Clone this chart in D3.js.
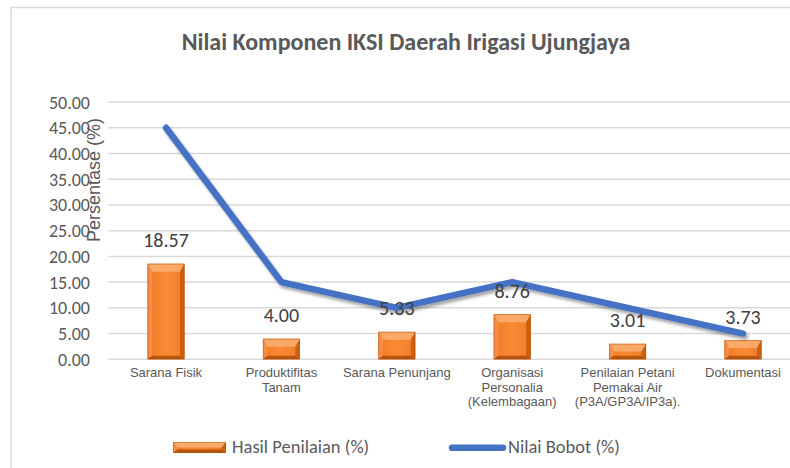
<!DOCTYPE html>
<html>
<head>
<meta charset="utf-8">
<script src="https://cdn.jsdelivr.net/npm/d3@7"></script>
<style>
  html, body { margin: 0; padding: 0; background: #fff; }
  svg { display: block; }
</style>
</head>
<body>
<svg id="chart" width="790" height="468"></svg>
<script>
// ---- data ----
const categories = [
  ["Sarana Fisik"],
  ["Produktifitas", "Tanam"],
  ["Sarana Penunjang"],
  ["Organisasi", "Personalia", "(Kelembagaan)"],
  ["Penilaian Petani", "Pemakai Air", "(P3A/GP3A/IP3a)."],
  ["Dokumentasi"]
];
const hasilPenilaian = [18.57, 4.00, 5.33, 8.76, 3.01, 3.73];
const nilaiBobot = [45, 15, 10, 15, 10, 5];
const yTicks = [0, 5, 10, 15, 20, 25, 30, 35, 40, 45, 50];
const title = "Nilai Komponen IKSI Daerah Irigasi Ujungjaya";
const yTitle = "Persentase (%)";
const seriesNames = ["Hasil Penilaian (%)", "Nilai Bobot (%)"];

// ---- layout ----
const svg = d3.select("#chart");
const plot = { left: 108.3, right: 800.7, top: 102, bottom: 359.3 };
const calibri = "Carlito, Lato, 'Liberation Sans', sans-serif";
const arial = "'Liberation Sans', Arial, sans-serif";

const x = d3.scaleBand().domain(d3.range(categories.length))
  .range([plot.left, plot.right]).paddingInner(0.68).paddingOuter(0.34);
const y = d3.scaleLinear().domain([0, 50]).range([plot.bottom, plot.top]);

// defs
const defs = svg.append("defs");
const g1 = defs.append("linearGradient").attr("id", "barFill").attr("x1", 0).attr("x2", 1).attr("y1", 0).attr("y2", 0);
g1.append("stop").attr("offset", "0%").attr("stop-color", "#F27B26");
g1.append("stop").attr("offset", "50%").attr("stop-color", "#FA8A36");
g1.append("stop").attr("offset", "100%").attr("stop-color", "#F07B27");
const shadow = defs.append("filter").attr("id", "lineShadow").attr("x", "-10%").attr("y", "-10%").attr("width", "130%").attr("height", "140%");
shadow.append("feGaussianBlur").attr("in", "SourceAlpha").attr("stdDeviation", 1.6).attr("result", "b");
shadow.append("feOffset").attr("in", "b").attr("dx", 1.5).attr("dy", 2.5).attr("result", "o");
shadow.append("feComponentTransfer").attr("in", "o").attr("result", "s")
  .append("feFuncA").attr("type", "linear").attr("slope", 0.35);
const mg = shadow.append("feMerge");
mg.append("feMergeNode").attr("in", "s");
mg.append("feMergeNode").attr("in", "SourceGraphic");

// chart border (extends past the crop)
svg.append("rect").attr("x", 11).attr("y", 7.5).attr("width", 820).attr("height", 520)
  .attr("fill", "none").attr("stroke", "#d9d9d9").attr("stroke-width", 1.5);

// title
svg.append("text").attr("x", 406).attr("y", 50).attr("text-anchor", "middle")
  .attr("font-family", calibri).attr("font-weight", "bold").attr("font-size", 24)
  .attr("fill", "#595959").text(title);

// gridlines
svg.append("g").selectAll("line").data(yTicks).join("line")
  .attr("x1", plot.left).attr("x2", 790)
  .attr("y1", d => y(d)).attr("y2", d => y(d))
  .attr("stroke", "#d9d9d9").attr("stroke-width", 1.5);

// y axis tick labels
svg.append("g").selectAll("text").data(yTicks).join("text")
  .attr("x", 90).attr("y", d => y(d) + 6.5).attr("text-anchor", "end")
  .attr("font-family", calibri).attr("font-size", 18).attr("fill", "#595959")
  .text(d => d.toFixed(2));

// y axis title
svg.append("text").attr("transform", "translate(100,180) rotate(-90)")
  .attr("text-anchor", "middle").attr("font-family", arial).attr("font-size", 18)
  .attr("fill", "#595959").text(yTitle);

// bevelled bar drawing
function bevelBar(g, x0, y0, w, h) {
  const t = Math.min(8, h / 2), s = Math.min(4.5, w / 2), b = Math.min(3.5, h / 2);
  g.append("rect").attr("x", x0).attr("y", y0).attr("width", w).attr("height", h).attr("fill", "url(#barFill)");
  const poly = (pts, fill) => g.append("polygon").attr("points", pts.map(p => p.join(",")).join(" ")).attr("fill", fill);
  poly([[x0, y0], [x0 + w, y0], [x0 + w - s, y0 + t], [x0 + s, y0 + t]], "#FAAA68");
  poly([[x0, y0], [x0 + s, y0 + t], [x0 + s, y0 + h - b], [x0, y0 + h]], "#F58D45");
  poly([[x0 + w, y0], [x0 + w - s, y0 + t], [x0 + w - s, y0 + h - b], [x0 + w, y0 + h]], "#CB6110");
  poly([[x0, y0 + h], [x0 + s, y0 + h - b], [x0 + w - s, y0 + h - b], [x0 + w, y0 + h]], "#B9540C");
  g.append("rect").attr("x", x0 + 0.4).attr("y", y0 + 0.4).attr("width", w - 0.8).attr("height", h - 0.8)
    .attr("fill", "none").attr("stroke", "#A34A0B").attr("stroke-opacity", 0.5).attr("stroke-width", 0.8);
}

// bars
const barsG = svg.append("g");
hasilPenilaian.forEach((v, i) => {
  bevelBar(barsG.append("g"), x(i), y(v), x.bandwidth(), y(0) - y(v));
});

// line
const line = d3.line().x((d, i) => x(i) + x.bandwidth() / 2).y(d => y(d));
svg.append("path").datum(nilaiBobot).attr("d", line)
  .attr("fill", "none").attr("stroke", "#4472C4").attr("stroke-width", 6.5)
  .attr("stroke-linecap", "round").attr("stroke-linejoin", "round")
  .attr("filter", "url(#lineShadow)");

// data labels
svg.append("g").selectAll("text").data(hasilPenilaian).join("text")
  .attr("x", (d, i) => x(i) + x.bandwidth() / 2).attr("y", d => y(d) - 16.5)
  .attr("text-anchor", "middle").attr("font-family", calibri).attr("font-size", 20)
  .attr("fill", "#404040").text(d => d.toFixed(2));

// category labels
const catG = svg.append("g");
categories.forEach((lines, i) => {
  const t = catG.append("text").attr("text-anchor", "middle")
    .attr("font-family", arial).attr("font-size", 13).attr("fill", "#595959");
  lines.forEach((ln, j) => {
    t.append("tspan").attr("x", x(i) + x.bandwidth() / 2).attr("y", 377 + j * 14.5).text(ln);
  });
});

// legend
const lg = svg.append("g");
bevelBar(lg.append("g"), 173, 442, 53, 11);
lg.append("text").attr("x", 232).attr("y", 453).attr("font-family", calibri).attr("font-size", 18.5)
  .attr("fill", "#595959").text(seriesNames[0]);
lg.append("line").attr("x1", 452).attr("x2", 503).attr("y1", 447.7).attr("y2", 447.7)
  .attr("stroke", "#4472C4").attr("stroke-width", 6.5).attr("stroke-linecap", "round");
lg.append("text").attr("x", 508).attr("y", 453).attr("font-family", calibri).attr("font-size", 18.5)
  .attr("fill", "#595959").text(seriesNames[1]);
</script>
</body>
</html>
